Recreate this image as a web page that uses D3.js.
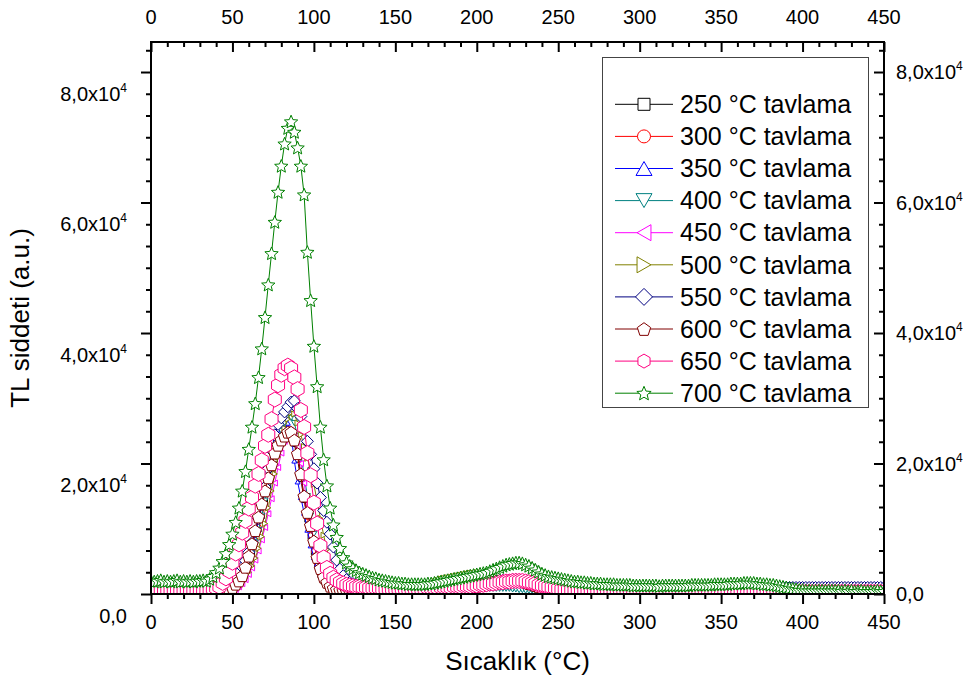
<!DOCTYPE html>
<html><head><meta charset="utf-8">
<script src="https://cdn.jsdelivr.net/npm/d3@7"></script>
<style>
body{margin:0;background:#fff}
svg{display:block}
text{font-family:"Liberation Sans",Arial,sans-serif;fill:#000}
</style>
</head><body>
<svg id="chart" width="972" height="686"></svg>
<script>
// ---------------- data (TL intensity in units of 10^3 a.u., every 2 °C) ----------------
const temps = d3.range(0, 451, 2); // 0..450 °C
const seriesLabels = ["250 °C tavlama","300 °C tavlama","350 °C tavlama","400 °C tavlama","450 °C tavlama",
                      "500 °C tavlama","550 °C tavlama","600 °C tavlama","650 °C tavlama","700 °C tavlama"];
const seriesColors = ["#000000","#FF0000","#0000FF","#008080","#FF00FF","#808000","#000080","#800000","#FF0080","#008000"];
const seriesShapes = ["square","circle","up","down","left","right","diamond","pentagon","hexagon","star"];
const plotSizes = [5,5,5,6,6,6,12,13,15,14];
const legendSizes = [12,13,16,16,16,16,17,14,14,15];

const s250 = [
0.1,0.1,0.1,0.1,0.1,0.1,0.1,0.1,0.1,0.1,
0.1,0.1,0.1,0.1,0.1,0.1,0.1,0.1,0.1,0.1,
0.1,0.1,0.2,0.3,0.5,0.8,1.2,1.8,2.6,3.6,
4.9,6.4,8.1,10.0,12.0,14.2,16.4,18.6,20.6,22.2,
23.4,24.2,24.6,24.4,23.0,20.6,17.6,14.4,11.4,8.8,
6.4,4.4,2.9,1.9,1.3,0.9,0.7,0.6,0.5,0.5,
0.4,0.4,0.4,0.4,0.4,0.4,0.4,0.4,0.4,0.4,
0.4,0.4,0.4,0.4,0.4,0.4,0.4,0.4,0.4,0.4,
0.4,0.4,0.4,0.4,0.5,0.5,0.5,0.6,0.6,0.7,
0.7,0.8,0.8,0.9,0.9,1.0,1.0,1.1,1.1,1.2,
1.2,1.2,1.3,1.3,1.3,1.4,1.4,1.4,1.4,1.4,
1.4,1.4,1.4,1.3,1.3,1.2,1.1,1.0,0.9,0.8,
0.7,0.7,0.6,0.6,0.5,0.5,0.5,0.4,0.4,0.4,
0.4,0.4,0.4,0.4,0.4,0.4,0.4,0.4,0.4,0.4,
0.4,0.4,0.4,0.4,0.4,0.4,0.4,0.4,0.4,0.4,
0.4,0.4,0.4,0.4,0.4,0.4,0.4,0.4,0.4,0.4,
0.4,0.4,0.4,0.4,0.4,0.4,0.4,0.4,0.4,0.4,
0.4,0.4,0.4,0.4,0.4,0.4,0.4,0.4,0.4,0.4,
0.4,0.4,0.4,0.4,0.4,0.4,0.4,0.4,0.4,0.4,
0.4,0.4,0.4,0.4,0.4,0.4,0.4,0.4,0.4,0.4,
0.4,0.4,0.4,0.4,0.4,0.4,0.4,0.4,0.4,0.4,
0.4,0.4,0.4,0.4,0.4,0.4,0.4,0.4,0.4,0.4,
0.4,0.4,0.4,0.4,0.4,0.4];

const s300 = [
0.1,0.1,0.1,0.1,0.1,0.1,0.1,0.1,0.1,0.1,
0.1,0.1,0.1,0.1,0.1,0.1,0.1,0.1,0.1,0.1,
0.1,0.1,0.2,0.3,0.5,0.8,1.3,1.9,2.7,3.7,
5.0,6.5,8.3,10.3,12.5,14.8,17.1,19.3,21.3,23.0,
24.2,25.0,25.4,25.2,23.8,21.2,18.0,14.8,11.8,9.0,
6.6,4.6,3.1,2.0,1.4,1.0,0.8,0.6,0.5,0.5,
0.5,0.5,0.5,0.5,0.5,0.5,0.5,0.5,0.5,0.5,
0.5,0.5,0.5,0.5,0.5,0.5,0.5,0.5,0.5,0.5,
0.5,0.5,0.5,0.5,0.5,0.6,0.6,0.6,0.7,0.7,
0.8,0.8,0.9,0.9,1.0,1.0,1.1,1.1,1.2,1.2,
1.3,1.3,1.4,1.4,1.5,1.5,1.5,1.6,1.6,1.6,
1.6,1.6,1.6,1.5,1.5,1.4,1.3,1.2,1.1,1.0,
0.9,0.8,0.7,0.7,0.6,0.6,0.5,0.5,0.5,0.5,
0.5,0.5,0.5,0.5,0.5,0.5,0.5,0.5,0.5,0.5,
0.5,0.5,0.5,0.5,0.5,0.5,0.5,0.5,0.5,0.5,
0.5,0.5,0.5,0.5,0.5,0.5,0.5,0.5,0.5,0.5,
0.5,0.5,0.5,0.5,0.5,0.5,0.5,0.5,0.5,0.5,
0.5,0.5,0.5,0.5,0.5,0.5,0.5,0.5,0.5,0.5,
0.5,0.5,0.5,0.5,0.5,0.5,0.5,0.5,0.5,0.5,
0.5,0.5,0.5,0.5,0.5,0.5,0.5,0.5,0.5,0.5,
0.5,0.5,0.5,0.5,0.5,0.5,0.5,0.5,0.5,0.5,
0.5,0.5,0.5,0.5,0.5,0.5,0.5,0.5,0.5,0.5,
0.5,0.5,0.5,0.5,0.5,0.5];

const s350 = [
0.1,0.1,0.1,0.1,0.1,0.1,0.1,0.1,0.1,0.1,
0.1,0.1,0.1,0.1,0.1,0.1,0.1,0.1,0.1,0.1,
0.1,0.2,0.3,0.5,0.8,1.2,1.8,2.5,3.4,4.5,
5.8,7.4,9.2,11.2,13.4,15.6,17.8,20.0,22.2,24.0,
25.2,26.0,26.2,24.4,20.4,17.2,14.8,12.4,9.8,7.4,
5.6,4.6,4.0,3.3,2.7,2.1,1.6,1.2,1.0,0.8,
0.7,0.7,0.6,0.6,0.6,0.6,0.6,0.6,0.6,0.6,
0.6,0.6,0.6,0.6,0.6,0.6,0.6,0.6,0.6,0.6,
0.6,0.6,0.6,0.7,0.7,0.7,0.8,0.8,0.9,0.9,
1.0,1.0,1.1,1.2,1.3,1.4,1.5,1.6,1.7,1.8,
1.8,1.9,1.9,2.0,2.0,2.0,2.1,2.1,2.1,2.1,
2.1,2.1,2.0,2.0,1.9,1.8,1.7,1.6,1.5,1.4,
1.3,1.2,1.1,1.0,1.0,0.9,0.9,0.9,0.9,0.9,
0.9,0.9,0.9,0.9,0.9,0.9,0.9,0.9,0.9,0.9,
0.9,0.9,0.9,0.9,0.9,0.9,0.9,0.9,0.9,0.9,
0.9,0.9,0.9,0.9,0.9,0.9,0.9,0.9,0.9,0.9,
0.9,0.9,0.9,0.9,0.9,0.9,0.9,0.9,0.9,0.9,
0.9,0.9,0.9,0.9,0.9,0.9,0.9,0.9,0.9,0.9,
0.9,0.9,0.9,0.9,0.9,0.9,0.9,0.9,0.9,0.9,
0.9,0.9,0.9,0.9,0.9,0.9,1.0,1.0,1.1,1.2,
1.3,1.3,1.4,1.4,1.4,1.4,1.4,1.4,1.4,1.4,
1.4,1.4,1.4,1.4,1.4,1.4,1.4,1.4,1.4,1.4,
1.4,1.4,1.4,1.4,1.4,1.4];

const s400 = [
0.1,0.1,0.1,0.1,0.1,0.1,0.1,0.1,0.1,0.1,
0.1,0.1,0.1,0.1,0.1,0.1,0.1,0.1,0.1,0.1,
0.1,0.1,0.2,0.3,0.5,0.8,1.2,1.8,2.6,3.5,
4.7,6.2,7.9,9.8,12.0,14.3,16.7,19.1,21.4,23.4,
25.0,26.2,26.9,27.0,26.2,24.2,21.4,18.2,15.0,12.0,
9.2,6.8,4.8,3.3,2.3,1.6,1.2,0.9,0.7,0.6,
0.5,0.5,0.5,0.5,0.5,0.5,0.5,0.5,0.5,0.5,
0.5,0.5,0.5,0.5,0.5,0.5,0.5,0.5,0.5,0.5,
0.5,0.5,0.5,0.5,0.5,0.5,0.5,0.5,0.5,0.5,
0.5,0.5,0.5,0.6,0.6,0.6,0.6,0.7,0.7,0.7,
0.7,0.8,0.8,0.8,0.8,0.8,0.8,0.8,0.8,0.8,
0.8,0.7,0.7,0.6,0.6,0.5,0.5,0.5,0.5,0.5,
0.5,0.5,0.5,0.5,0.5,0.5,0.5,0.5,0.5,0.5,
0.5,0.5,0.5,0.5,0.5,0.5,0.5,0.5,0.5,0.5,
0.5,0.5,0.5,0.5,0.5,0.5,0.5,0.5,0.5,0.5,
0.5,0.5,0.5,0.5,0.5,0.5,0.5,0.5,0.5,0.5,
0.5,0.5,0.5,0.5,0.5,0.5,0.5,0.5,0.5,0.5,
0.5,0.5,0.5,0.5,0.5,0.5,0.5,0.5,0.5,0.5,
0.5,0.5,0.5,0.5,0.5,0.5,0.5,0.5,0.5,0.5,
0.5,0.5,0.5,0.5,0.5,0.5,0.5,0.5,0.5,0.5,
0.5,0.5,0.5,0.5,0.5,0.5,0.5,0.5,0.5,0.5,
0.5,0.5,0.5,0.5,0.5,0.5,0.5,0.5,0.5,0.5,
0.5,0.5,0.5,0.5,0.5,0.5];

const s450 = [
0.1,0.1,0.1,0.1,0.1,0.1,0.1,0.1,0.1,0.1,
0.1,0.1,0.1,0.1,0.1,0.1,0.1,0.1,0.1,0.1,
0.1,0.1,0.1,0.1,0.2,0.4,0.7,1.1,1.6,2.2,
3.0,4.0,5.2,6.6,8.3,10.2,12.3,14.6,17.0,19.4,
21.6,23.4,24.6,25.0,24.4,22.6,20.0,17.0,13.8,10.8,
8.0,5.6,3.8,2.5,1.6,1.1,0.8,0.6,0.5,0.4,
0.4,0.4,0.4,0.4,0.4,0.4,0.4,0.4,0.4,0.4,
0.4,0.4,0.4,0.4,0.4,0.4,0.4,0.4,0.4,0.4,
0.4,0.4,0.4,0.4,0.4,0.5,0.5,0.5,0.6,0.6,
0.7,0.7,0.8,0.8,0.9,0.9,1.0,1.0,1.1,1.1,
1.2,1.2,1.3,1.3,1.4,1.4,1.5,1.5,1.6,1.6,
1.6,1.6,1.6,1.6,1.5,1.5,1.4,1.3,1.2,1.1,
1.0,0.9,0.8,0.7,0.6,0.6,0.5,0.5,0.5,0.4,
0.4,0.4,0.4,0.4,0.4,0.4,0.4,0.4,0.4,0.4,
0.4,0.4,0.4,0.4,0.4,0.4,0.4,0.4,0.4,0.4,
0.4,0.4,0.4,0.4,0.4,0.4,0.4,0.4,0.4,0.4,
0.4,0.4,0.4,0.4,0.4,0.4,0.4,0.4,0.4,0.4,
0.4,0.4,0.4,0.4,0.4,0.4,0.4,0.4,0.4,0.4,
0.4,0.4,0.4,0.4,0.4,0.4,0.4,0.4,0.4,0.4,
0.4,0.4,0.4,0.4,0.4,0.4,0.4,0.4,0.4,0.4,
0.4,0.4,0.4,0.4,0.4,0.4,0.4,0.4,0.4,0.4,
0.4,0.4,0.4,0.4,0.4,0.4,0.4,0.4,0.4,0.4,
0.4,0.4,0.4,0.4,0.4,0.4];

const s500 = [
0.1,0.1,0.1,0.1,0.1,0.1,0.1,0.1,0.1,0.1,
0.1,0.1,0.1,0.1,0.1,0.1,0.1,0.1,0.1,0.1,
0.1,0.1,0.2,0.2,0.3,0.5,0.8,1.2,1.8,2.5,
3.3,4.3,5.5,7.0,8.8,10.8,13.2,15.8,18.4,21.0,
23.4,25.4,26.8,27.8,27.6,26.2,24.4,22.6,20.8,19.0,
16.8,14.2,11.6,9.0,6.8,5.0,3.6,2.6,1.9,1.5,
1.2,1.1,1.0,1.0,0.9,0.9,0.9,0.9,0.9,0.9,
0.9,0.9,0.9,0.9,1.0,1.0,1.0,1.0,1.0,1.0,
1.0,1.1,1.2,1.3,1.4,1.5,1.7,1.9,2.1,2.3,
2.4,2.5,2.6,2.7,2.8,2.9,3.0,3.1,3.2,3.2,
3.3,3.3,3.2,3.1,3.0,2.8,2.6,2.4,2.2,2.0,
1.9,1.8,1.7,1.6,1.5,1.4,1.3,1.2,1.1,1.0,
0.9,0.9,0.9,0.9,0.9,0.8,0.8,0.8,0.8,0.8,
0.8,0.8,0.8,0.8,0.8,0.8,0.8,0.8,0.8,0.8,
0.8,0.8,0.8,0.8,0.8,0.8,0.8,0.8,0.8,0.8,
0.8,0.8,0.8,0.8,0.8,0.8,0.8,0.8,0.8,0.8,
0.8,0.8,0.8,0.8,0.8,0.8,0.8,0.8,0.8,0.8,
0.8,0.8,0.8,0.8,0.8,0.8,0.8,0.8,0.8,0.8,
0.8,0.8,0.8,0.8,0.8,0.8,0.8,0.8,0.8,0.8,
0.8,0.8,0.8,0.8,0.7,0.7,0.7,0.7,0.7,0.7,
0.7,0.7,0.7,0.7,0.7,0.7,0.7,0.7,0.7,0.7,
0.7,0.7,0.7,0.7,0.7,0.7,0.7,0.7,0.7,0.7,
0.7,0.7,0.7,0.7,0.7,0.7];

const s550 = [
0.2,0.2,0.2,0.2,0.2,0.2,0.2,0.2,0.2,0.2,
0.2,0.2,0.2,0.2,0.2,0.2,0.2,0.2,0.3,0.3,
0.4,0.6,0.8,1.1,1.5,2.0,2.6,3.3,4.1,5.1,
6.4,7.9,9.6,11.6,13.8,16.4,19.2,22.0,24.4,26.0,
27.0,27.9,28.7,29.4,29.6,28.4,27.2,25.6,23.4,21.4,
19.2,17.0,14.8,12.8,11.0,9.2,7.2,5.2,3.8,2.8,
2.2,1.8,1.6,1.4,1.3,1.2,1.1,1.1,1.0,1.0,
1.0,1.0,0.9,0.9,0.9,0.9,0.9,0.9,0.9,0.9,
0.9,0.9,0.9,0.9,1.0,1.0,1.0,1.0,1.1,1.1,
1.2,1.2,1.3,1.3,1.4,1.4,1.5,1.5,1.6,1.6,
1.7,1.7,1.8,1.8,1.9,1.9,2.0,2.0,2.1,2.1,
2.1,2.2,2.2,2.1,2.1,2.0,1.9,1.8,1.7,1.6,
1.5,1.4,1.3,1.2,1.2,1.1,1.1,1.0,1.0,1.0,
1.0,1.0,1.0,1.0,1.0,1.0,1.0,1.0,1.0,1.0,
1.0,1.0,1.0,1.0,1.0,1.0,1.0,1.0,1.0,1.0,
1.0,1.0,1.0,1.0,1.0,1.0,1.0,1.0,1.0,1.0,
1.0,1.0,1.0,1.0,1.0,1.0,1.0,1.0,1.0,1.0,
1.0,1.0,1.0,1.0,1.0,1.0,1.0,1.0,1.0,1.0,
1.0,1.0,1.0,1.0,1.0,1.0,1.0,1.0,1.0,1.0,
1.0,1.0,1.0,1.0,1.0,1.0,1.0,1.0,1.0,1.0,
1.0,1.0,1.0,1.0,1.0,1.0,1.0,1.0,1.0,1.0,
1.0,1.0,1.0,1.0,1.0,1.0,1.0,1.0,1.0,1.0,
1.0,1.0,1.0,1.0,1.0,1.0];

const s600 = [
0.1,0.1,0.1,0.1,0.1,0.1,0.1,0.1,0.1,0.1,
0.1,0.1,0.1,0.1,0.1,0.1,0.1,0.1,0.1,0.1,
0.1,0.1,0.2,0.3,0.6,1.0,1.5,2.0,2.8,4.1,
5.8,7.7,9.7,11.8,13.8,15.8,17.8,19.8,21.6,22.8,
23.6,24.2,24.8,24.8,23.6,21.5,18.4,15.0,12.5,10.5,
8.1,5.6,3.9,2.6,1.8,1.2,0.9,0.7,0.6,0.5,
0.5,0.4,0.4,0.4,0.4,0.4,0.4,0.4,0.4,0.4,
0.4,0.4,0.4,0.4,0.4,0.4,0.4,0.4,0.4,0.4,
0.4,0.4,0.4,0.4,0.4,0.5,0.5,0.5,0.5,0.5,
0.6,0.6,0.7,0.7,0.8,0.8,0.9,0.9,1.0,1.1,
1.2,1.3,1.4,1.5,1.6,1.7,1.8,1.8,1.9,1.9,
2.0,2.0,2.0,1.9,1.9,1.8,1.6,1.5,1.3,1.1,
1.0,0.9,0.8,0.7,0.6,0.6,0.5,0.5,0.5,0.4,
0.4,0.4,0.4,0.4,0.4,0.4,0.4,0.4,0.4,0.4,
0.4,0.4,0.4,0.4,0.4,0.4,0.4,0.4,0.4,0.4,
0.4,0.4,0.4,0.4,0.4,0.4,0.4,0.4,0.4,0.4,
0.4,0.4,0.4,0.4,0.4,0.4,0.4,0.4,0.4,0.4,
0.4,0.4,0.4,0.4,0.4,0.4,0.4,0.4,0.4,0.4,
0.4,0.4,0.4,0.4,0.4,0.4,0.4,0.4,0.4,0.4,
0.4,0.4,0.4,0.4,0.4,0.4,0.4,0.4,0.4,0.4,
0.4,0.4,0.4,0.4,0.4,0.4,0.4,0.4,0.4,0.4,
0.4,0.4,0.4,0.4,0.4,0.4,0.4,0.4,0.4,0.4,
0.4,0.4,0.4,0.4,0.4,0.4];

const s650 = [
0.6,0.6,0.5,0.6,0.6,0.5,0.6,0.6,0.5,0.6,
0.6,0.5,0.6,0.6,0.5,0.6,0.6,0.6,0.7,0.8,
0.9,1.1,1.7,2.4,3.5,4.8,6.2,7.6,9.4,11.2,
13.1,14.8,16.6,18.4,20.5,22.7,24.4,26.8,29.8,32.0,
33.6,34.6,35.0,34.6,33.2,31.4,28.2,25.6,21.6,18.2,
14.0,10.8,7.4,5.6,4.0,3.1,2.5,2.1,1.8,1.6,
1.4,1.3,1.2,1.1,1.1,1.0,1.0,0.9,0.9,0.9,
0.9,0.8,0.8,0.8,0.8,0.8,0.8,0.8,0.8,0.8,
0.8,0.8,0.8,0.8,0.8,0.9,0.9,0.9,0.9,1.0,
1.0,1.0,1.0,1.1,1.1,1.1,1.2,1.2,1.2,1.3,
1.3,1.4,1.4,1.5,1.6,1.6,1.7,1.8,1.8,1.9,
1.9,2.0,2.0,2.0,2.0,1.9,1.8,1.7,1.6,1.4,
1.3,1.2,1.1,1.0,0.9,0.8,0.7,0.7,0.6,0.6,
0.5,0.5,0.5,0.5,0.5,0.4,0.4,0.4,0.4,0.4,
0.3,0.3,0.3,0.3,0.3,0.3,0.3,0.3,0.3,0.3,
0.3,0.3,0.3,0.3,0.3,0.3,0.3,0.3,0.3,0.3,
0.3,0.3,0.3,0.3,0.3,0.3,0.3,0.3,0.3,0.3,
0.3,0.3,0.3,0.3,0.3,0.3,0.3,0.3,0.3,0.3,
0.3,0.3,0.3,0.3,0.3,0.3,0.3,0.3,0.3,0.3,
0.3,0.3,0.3,0.3,0.3,0.3,0.3,0.3,0.3,0.3,
0.3,0.3,0.3,0.3,0.3,0.3,0.3,0.3,0.3,0.3,
0.3,0.3,0.3,0.3,0.3,0.3,0.3,0.3,0.3,0.3,
0.3,0.3,0.3,0.3,0.3,0.3];

const s700 = [
2.0,1.9,2.0,2.1,1.9,2.0,1.9,2.0,2.1,1.9,
2.0,1.9,2.0,1.9,2.0,2.0,2.1,2.0,2.3,2.7,
3.3,4.0,5.0,6.2,7.6,9.2,11.0,13.2,15.8,18.8,
22.2,25.6,29.2,33.2,37.6,42.4,47.4,52.2,57.0,61.6,
65.6,69.0,71.4,72.4,70.8,68.4,65.6,61.2,52.4,45.0,
38.0,31.8,25.6,20.6,16.6,13.2,10.6,8.7,7.0,5.6,
4.8,4.3,3.9,3.6,3.3,3.1,2.9,2.7,2.5,2.4,
2.2,2.1,2.0,1.9,1.8,1.7,1.7,1.6,1.6,1.5,
1.5,1.5,1.5,1.5,1.5,1.6,1.6,1.7,1.8,1.9,
2.0,2.1,2.2,2.3,2.4,2.5,2.6,2.7,2.8,2.9,
3.0,3.1,3.2,3.3,3.5,3.7,3.9,4.1,4.3,4.5,
4.6,4.7,4.8,4.8,4.7,4.5,4.3,4.0,3.7,3.4,
3.1,2.9,2.7,2.6,2.5,2.4,2.3,2.2,2.1,2.0,
1.9,1.9,1.8,1.8,1.7,1.7,1.6,1.6,1.6,1.5,
1.5,1.5,1.5,1.4,1.4,1.4,1.4,1.4,1.3,1.3,
1.3,1.3,1.3,1.3,1.3,1.3,1.2,1.3,1.3,1.3,
1.3,1.3,1.3,1.3,1.3,1.3,1.4,1.4,1.4,1.4,
1.4,1.4,1.4,1.5,1.5,1.5,1.5,1.5,1.6,1.6,
1.6,1.6,1.7,1.7,1.7,1.7,1.6,1.6,1.5,1.5,
1.4,1.4,1.3,1.2,1.1,1.0,0.9,0.8,0.7,0.6,
0.6,0.5,0.5,0.5,0.5,0.5,0.5,0.5,0.5,0.5,
0.5,0.5,0.4,0.5,0.4,0.5,0.4,0.4,0.5,0.4,
0.4,0.4,0.4,0.5,0.4,0.4];

const seriesValues = [s250,s300,s350,s400,s450,s500,s550,s600,s650,s700];

const xTicks = [0,50,100,150,200,250,300,350,400,450];
const xMinorStep = 10;
const yTicks = [0,20,40,60,80];               // in 10^3
const yTickMantissa = ["0,0","2,0","4,0","6,0","8,0"];
const yMinorStep = 20/6;
const xTitle = "Sıcaklık (°C)";
const yTitle = "TL siddeti (a.u.)";

// ---------------- layout ----------------
const L = 151, R = 884, T = 42, B = 594;
const svg = d3.select("#chart");
const x = d3.scaleLinear().domain([0,450]).range([L,R]);
const y = d3.scaleLinear().domain([0,84.6]).range([B,T]);

const xMinor = d3.range(0, 450.01, xMinorStep).filter(v => v % 50 !== 0);
const yMinor = d3.range(0, 84.6, yMinorStep).filter((v,i) => i % 6 !== 0);

function styleAxis(g){
  g.select(".domain").remove();
  g.selectAll("line").attr("stroke","#000").attr("stroke-width",2);
  g.selectAll("text").remove();
}
// bottom (outward)
svg.append("g").attr("transform",`translate(0,${B})`).call(d3.axisBottom(x).tickValues(xTicks).tickSize(10).tickSizeOuter(0)).call(styleAxis);
svg.append("g").attr("transform",`translate(0,${B})`).call(d3.axisBottom(x).tickValues(xMinor).tickSize(5).tickSizeOuter(0)).call(styleAxis);
// top (inward)
svg.append("g").attr("transform",`translate(0,${T})`).call(d3.axisTop(x).tickValues(xTicks).tickSize(-10).tickSizeOuter(0)).call(styleAxis);
svg.append("g").attr("transform",`translate(0,${T})`).call(d3.axisTop(x).tickValues(xMinor).tickSize(-5).tickSizeOuter(0)).call(styleAxis);
// left (outward)
svg.append("g").attr("transform",`translate(${L},0)`).call(d3.axisLeft(y).tickValues(yTicks).tickSize(10).tickSizeOuter(0)).call(styleAxis);
svg.append("g").attr("transform",`translate(${L},0)`).call(d3.axisLeft(y).tickValues(yMinor).tickSize(5).tickSizeOuter(0)).call(styleAxis);
// right (inward)
svg.append("g").attr("transform",`translate(${R},0)`).call(d3.axisRight(y).tickValues(yTicks).tickSize(-10).tickSizeOuter(0)).call(styleAxis);
svg.append("g").attr("transform",`translate(${R},0)`).call(d3.axisRight(y).tickValues(yMinor).tickSize(-5).tickSizeOuter(0)).call(styleAxis);

// x tick labels
xTicks.forEach(v => {
  svg.append("text").attr("x",x(v)).attr("y",622).attr("dy","0.35em").attr("text-anchor","middle").attr("font-size",20).text(v);
  svg.append("text").attr("x",x(v)).attr("y",17).attr("dy","0.35em").attr("text-anchor","middle").attr("font-size",20).text(v);
});
// y tick labels
function yLabel(xp, yp, i, anchor){
  const t = svg.append("text").attr("x",xp).attr("y",yp).attr("dy","0.35em").attr("text-anchor",anchor).attr("font-size",20);
  if (yTicks[i] === 0) { t.text(yTickMantissa[i]); return; }
  t.append("tspan").text(yTickMantissa[i] + "x10");
  t.append("tspan").attr("font-size",12).attr("dy",-9).text("4");
}
yTicks.forEach((v,i) => {
  yLabel(127, y(v - yMinorStep), i, "end");
  yLabel(896, y(v), i, "start");
});

// axis titles
svg.append("text").attr("x",(L+R)/2).attr("y",661).attr("dy","0.35em").attr("text-anchor","middle").attr("font-size",26).text(xTitle);
svg.append("text").attr("transform",`translate(20,${(T+B)/2}) rotate(-90)`).attr("dy","0.35em").attr("text-anchor","middle").attr("font-size",26).text(yTitle);

// marker shapes
function poly(pts){ return "M" + pts.map(p => p[0].toFixed(2)+","+p[1].toFixed(2)).join("L") + "Z"; }
function shapePath(type, s){
  const r = s/2, h = s*0.87;
  switch(type){
    case "square": return `M${-r},${-r}H${r}V${r}H${-r}Z`;
    case "circle": return `M${r},0A${r},${r} 0 1,1 ${-r},0A${r},${r} 0 1,1 ${r},0Z`;
    case "up": return poly([[0,-h/2],[r,h/2],[-r,h/2]]);
    case "down": return poly([[0,h/2],[r,-h/2],[-r,-h/2]]);
    case "left": return poly([[-h/2,0],[h/2,-r],[h/2,r]]);
    case "right": return poly([[h/2,0],[-h/2,-r],[-h/2,r]]);
    case "diamond": return poly([[0,-r],[r,0],[0,r],[-r,0]]);
    case "pentagon": return poly(d3.range(5).map(k => { const a = (-90 + k*72)*Math.PI/180; return [r*Math.cos(a), r*Math.sin(a)+r*0.1]; }));
    case "hexagon": return poly(d3.range(6).map(k => { const a = (-90 + k*60)*Math.PI/180; return [r*Math.cos(a), r*Math.sin(a)]; }));
    case "star": return poly(d3.range(10).map(k => { const a = (-90 + k*36)*Math.PI/180, rr = k%2 ? r*0.45 : r; return [rr*Math.cos(a), rr*Math.sin(a)+r*0.08]; }));
  }
}

// plot area
svg.append("clipPath").attr("id","clip").append("rect").attr("x",L).attr("y",T).attr("width",R-L).attr("height",B-T);
const plot = svg.append("g").attr("clip-path","url(#clip)");
const line = d3.line().x(d => x(d[0])).y(d => y(d[1]));

seriesValues.forEach((vals, si) => {
  const pts = temps.map((t,i) => [t, vals[i]]).filter(d => d[1] !== undefined);
  const g = plot.append("g");
  g.append("path").attr("d", line(pts)).attr("fill","none").attr("stroke",seriesColors[si]).attr("stroke-width",1);
  const p = shapePath(seriesShapes[si], plotSizes[si]);
  g.selectAll("path.m").data(pts).join("path").attr("class","m")
    .attr("d", p).attr("transform", d => `translate(${x(d[0])},${y(d[1])})`)
    .attr("fill","#fff").attr("stroke",seriesColors[si]).attr("stroke-width",1);
});

// frame
svg.append("rect").attr("x",L).attr("y",T).attr("width",R-L).attr("height",B-T).attr("fill","none").attr("stroke","#000").attr("stroke-width",2);

// legend
const lg = svg.append("g");
lg.append("rect").attr("x",602.5).attr("y",57.5).attr("width",266).attr("height",350).attr("fill","#fff").attr("stroke","#444").attr("stroke-width",1);
seriesLabels.forEach((lab, i) => {
  const yy = 104.3 + i*32.1;
  lg.append("line").attr("x1",615).attr("x2",673).attr("y1",yy).attr("y2",yy).attr("stroke",seriesColors[i]).attr("stroke-width",1);
  lg.append("path").attr("d",shapePath(seriesShapes[i], legendSizes[i])).attr("transform",`translate(644,${yy})`)
    .attr("fill","#fff").attr("stroke",seriesColors[i]).attr("stroke-width",1);
  lg.append("text").attr("x",680).attr("y",yy).attr("dy","0.35em").attr("font-size",25).text(lab);
});
</script>
</body></html>
